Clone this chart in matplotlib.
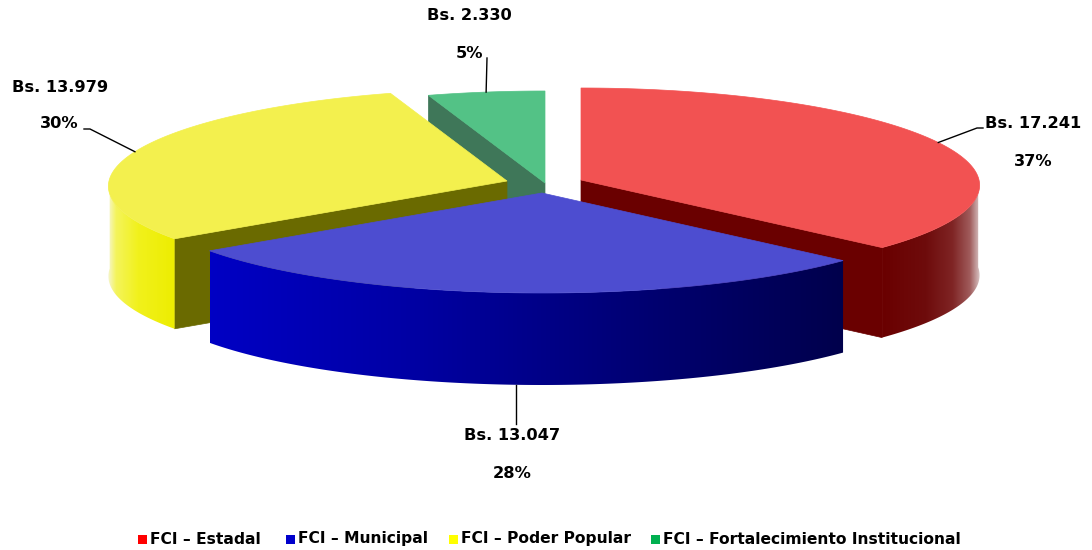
import matplotlib
matplotlib.use('Agg')
import matplotlib.pyplot as plt
from matplotlib.colors import LinearSegmentedColormap
from matplotlib.patches import Polygon, Rectangle
import numpy as np

names = ['FCI – Estadal', 'FCI – Municipal', 'FCI – Poder Popular', 'FCI – Fortalecimiento Institucional']
values = [17241, 13047, 13979, 2330]
value_labels = ['Bs. 17.241', 'Bs. 13.047', 'Bs. 13.979', 'Bs. 2.330']
pct_labels = ['37%', '28%', '30%', '5%']
legend_colors = ['#ff0000', '#0000cc', '#ffff00', '#00b050']

# look of each slice, everything in pixels of the 1092x550 picture
apex = [(581, 180), (542, 193), (507, 181), (545, 183)]
depth = [90, 92, 90, 90]
top_colors = ['#f25252', '#4d4dd0', '#f3f04e', '#53c286']
wall_colors = ['#6a0000', None, '#6a6a00', '#3f7759']
side_stops = [
    [(0, '#6a0000'), (0.45, '#6e0c0c'), (0.72, '#7f2424'), (0.9, '#a05c5c'), (1, '#d8c4c4')],
    [(0, '#0000c4'), (0.3, '#0000a6'), (0.7, '#000070'), (1, '#00004c')],
    [(0, '#f6f6d0'), (0.12, '#f4f45c'), (0.45, '#f1f11c'), (1, '#eded00')],
    None,
]
rx, ry = 398, 96

fig = plt.figure(figsize=(10.92, 5.5), dpi=100)
ax = fig.add_axes([0, 0, 1, 1])


def rim(i, angle):
    # angle in radians clockwise from 12 o'clock, front is a bit bigger than back
    s, c = np.sin(angle), np.cos(angle)
    x = apex[i][0] + rx * s * (1 - 0.055 * c)
    y = apex[i][1] - ry * c + 4 * c ** 2
    return x, y


def gradient_fill(xs, ys, stops, z):
    poly = Polygon(np.column_stack([xs, ys]), closed=True, fc='none', ec='none', zorder=z)
    ax.add_patch(poly)
    cmap = LinearSegmentedColormap.from_list('side', stops)
    grad = np.linspace(0, 1, 512).reshape(1, -1)
    im = ax.imshow(grad, cmap=cmap, aspect='auto', interpolation='bilinear', zorder=z,
                   extent=[xs.min(), xs.max(), ys.max(), ys.min()])
    im.set_clip_path(poly)


fracs = np.array(values) / sum(values)
edges = np.concatenate([[0], np.cumsum(fracs)]) * 2 * np.pi

# back to front so the blue slice ends up on top
z = 1
for i in [3, 2, 0, 1]:
    a = np.linspace(edges[i], edges[i + 1], 200)
    x, y = rim(i, a)
    ax0, ay0 = apex[i]

    # cut faces
    if wall_colors[i]:
        if i == 0:
            wx, wy = x[-1], y[-1]
        else:
            wx, wy = x[0], y[0]
        ax.add_patch(Polygon([(ax0, ay0), (wx, wy), (wx, wy + depth[i]), (ax0, ay0 + depth[i])],
                             closed=True, fc=wall_colors[i], ec=wall_colors[i], lw=0.5, zorder=z))

    # outer side, only the front half of the rim shows
    front = np.cos(a) <= 0.03
    if side_stops[i] is not None and front.any():
        fx, fy = x[front], y[front]
        sx = np.concatenate([fx, fx[::-1]])
        sy = np.concatenate([fy, fy[::-1] + depth[i]])
        gradient_fill(sx, sy, side_stops[i], z + 1)

    # top face
    ax.add_patch(Polygon(np.column_stack([np.r_[ax0, x], np.r_[ay0, y]]), closed=True,
                         fc=top_colors[i], ec=top_colors[i], lw=0.5, zorder=z + 2))
    z += 3

# leader lines start on the rim at the middle of each slice
line_kw = dict(color='black', lw=1, solid_joinstyle='miter', zorder=z)
mid = (edges[:-1] + edges[1:]) / 2
x0, y0 = rim(0, mid[0])
ax.plot([x0, 977, 983], [y0, 128, 128], **line_kw)
x1, y1 = rim(1, mid[1])
ax.plot([516, 516], [y1 + depth[1], 424], **line_kw)
x2, y2 = rim(2, mid[2])
ax.plot([x2, 90, 84], [y2, 129, 129], **line_kw)
x3, y3 = rim(3, mid[3])
ax.plot([x3, 487], [y3, 58], **line_kw)

label_pos = [(1033, 123), (512, 435), (60, 87), (469, 16)]
pct_pos = [(1033, 161), (512, 473), (59, 124), (469, 54)]
text_kw = dict(family='DejaVu Sans', fontsize=11.7, fontweight='bold', ha='center', va='center', color='black')
for i in range(4):
    ax.text(label_pos[i][0], label_pos[i][1], value_labels[i], **text_kw)
    ax.text(pct_pos[i][0], pct_pos[i][1], pct_labels[i], **text_kw)

# legend
legend_x = [138, 286, 449, 651]
for i in range(4):
    ax.add_patch(Rectangle((legend_x[i], 534.5), 9, 9, fc=legend_colors[i], ec='none'))
    ax.text(legend_x[i] + 12, 539, names[i], family='DejaVu Sans', fontsize=11.2, fontweight='bold',
            ha='left', va='center')

ax.set_xlim(0, 1092)
ax.set_ylim(550, 0)
ax.axis('off')
fig.savefig('out.png', dpi=100)
